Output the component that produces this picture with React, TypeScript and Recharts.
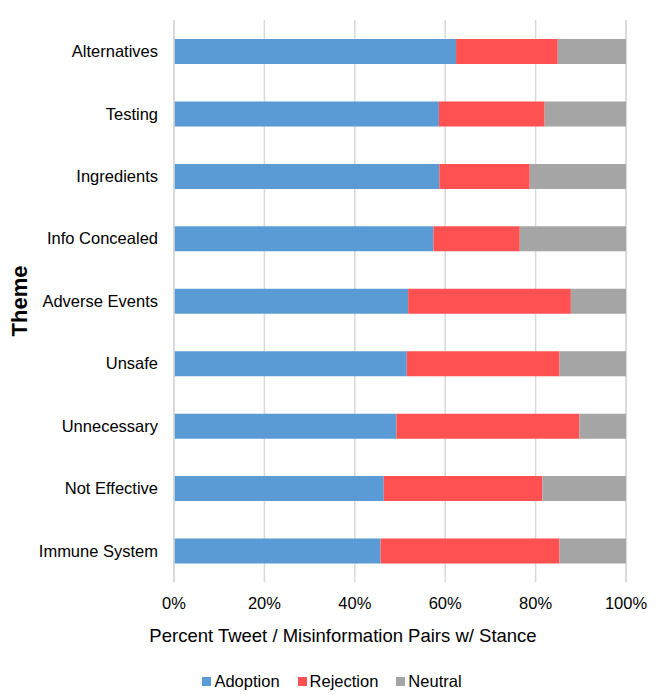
import React from "react";
import { BarChart, Bar, XAxis, YAxis, CartesianGrid, Legend } from "recharts";

const themes = [
  "Alternatives",
  "Testing",
  "Ingredients",
  "Info Concealed",
  "Adverse Events",
  "Unsafe",
  "Unnecessary",
  "Not Effective",
  "Immune System",
];
const adoption = [62.4, 58.6, 58.7, 57.4, 51.8, 51.5, 49.2, 46.4, 45.7];
const rejection = [22.5, 23.4, 20.0, 19.1, 36.0, 33.8, 40.5, 35.1, 39.6];
const neutral = [15.1, 18.0, 21.3, 23.5, 12.2, 14.7, 10.3, 18.5, 14.7];
const xTicks = [0, 20, 40, 60, 80, 100];

const series = [
  { key: "adoption", name: "Adoption", color: "#5B9BD5" },
  { key: "rejection", name: "Rejection", color: "#FF5151" },
  { key: "neutral", name: "Neutral", color: "#A5A5A5" },
];

const FONT = '"Liberation Sans", Arial, Helvetica, sans-serif';

const chartData = themes.map((theme, i) => ({
  theme,
  adoption: adoption[i],
  rejection: rejection[i],
  neutral: neutral[i],
}));

function StanceLegend() {
  return (
    <div
      style={{
        width: 664,
        height: 53,
        boxSizing: "border-box",
        paddingTop: 25,
        display: "flex",
        justifyContent: "center",
        fontFamily: FONT,
        fontSize: 16.5,
        lineHeight: "18px",
        color: "#000",
      }}
    >
      {series.map((s, i) => (
        <div
          key={s.key}
          style={{ display: "flex", alignItems: "center", marginRight: i < series.length - 1 ? 18 : 0 }}
        >
          <span style={{ width: 9, height: 9, background: s.color, marginRight: 3, display: "inline-block" }} />
          <span>{s.name}</span>
        </div>
      ))}
    </div>
  );
}

export default function App() {
  return (
    <div style={{ position: "absolute", left: 0, top: 0, width: 664, height: 695, background: "#fff" }}>
      <BarChart
        width={664}
        height={695}
        data={chartData}
        layout="vertical"
        margin={{ top: 20, right: 38, left: 0, bottom: 0 }}
        barSize={25}
      >
        <CartesianGrid horizontal={false} stroke="#D9D9D9" strokeWidth={1.5} />
        <XAxis
          type="number"
          domain={[0, 100]}
          ticks={xTicks}
          tickFormatter={(v) => `${v}%`}
          axisLine={false}
          tickLine={false}
          tickSize={0}
          tickMargin={15}
          height={60}
          tick={{ fontSize: 16.5, fill: "#000", fontFamily: FONT }}
          label={{
            value: "Percent Tweet / Misinformation Pairs w/ Stance",
            position: "insideBottom",
            offset: 0,
            dx: -57,
            style: { fontSize: 18.5, fill: "#000", fontFamily: FONT },
          }}
        />
        <YAxis
          type="category"
          dataKey="theme"
          width={174}
          axisLine={{ stroke: "#D9D9D9", strokeWidth: 1.5 }}
          tickLine={false}
          tickSize={0}
          tickMargin={16}
          tick={{ fontSize: 16.5, fill: "#000", fontFamily: FONT }}
          label={{
            value: "Theme",
            angle: -90,
            position: "insideLeft",
            offset: 19,
            style: { textAnchor: "middle", fontSize: 22, fontWeight: "bold", fill: "#000", fontFamily: FONT },
          }}
        />
        <Legend
          verticalAlign="bottom"
          wrapperStyle={{ left: 0, width: 664 }}
          content={<StanceLegend />}
        />
        {series.map((s) => (
          <Bar key={s.key} dataKey={s.key} name={s.name} stackId="a" fill={s.color} isAnimationActive={false} />
        ))}
      </BarChart>
    </div>
  );
}
